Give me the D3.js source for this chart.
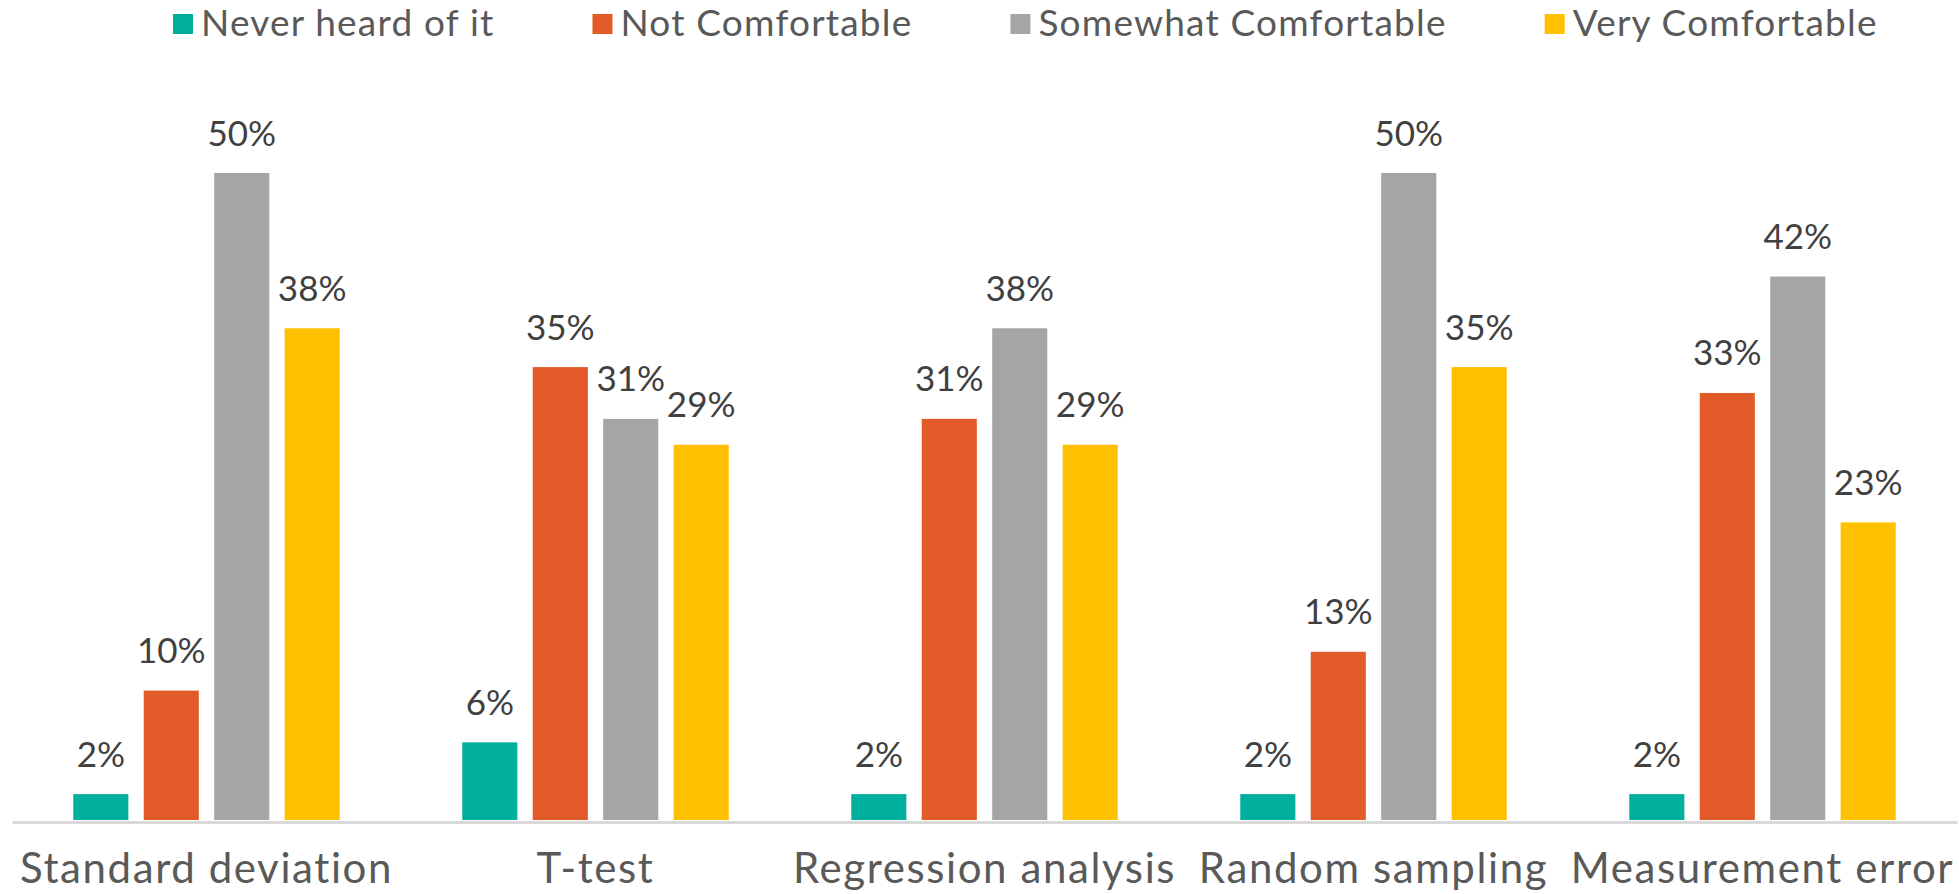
<!DOCTYPE html>
<html>
<head>
<meta charset="utf-8">
<script src="https://cdn.jsdelivr.net/npm/d3@7"></script>
<style>
  html, body { margin: 0; padding: 0; background: #ffffff; }
  svg { display: block; }
  text { font-family: Lato, "Open Sans", sans-serif; }
</style>
</head>
<body>
<svg id="chart" width="1959" height="894"></svg>
<script>
// Survey: comfort level with statistical concepts (% of respondents)
const categories = ["Standard deviation", "T-test", "Regression analysis", "Random sampling", "Measurement error"];
const seriesNames = ["Never heard of it", "Not Comfortable", "Somewhat Comfortable", "Very Comfortable"];
const neverHeard = [2, 6, 2, 2, 2];
const notComfortable = [10, 35, 31, 13, 33];
const somewhatComfortable = [50, 31, 38, 50, 42];
const veryComfortable = [38, 29, 29, 35, 23];
const seriesColors = ["#00AF9D", "#E15A27", "#A5A5A5", "#FFC000"];

const seriesValues = [neverHeard, notComfortable, somewhatComfortable, veryComfortable];

const W = 1959, H = 894;
const left = 12, right = 1957, baseY = 820, top50 = 173;

const svg = d3.select("#chart");

const x0 = d3.scaleBand()
  .domain(categories)
  .range([left, right])
  .paddingInner(0.315)
  .paddingOuter(0.1575);

const x1 = d3.scaleBand()
  .domain(seriesNames)
  .range([0, x0.bandwidth()])
  .paddingInner(0.218)
  .paddingOuter(0);

const y = d3.scaleLinear()
  .domain([0, 50])
  .range([baseY, top50]);

const color = d3.scaleOrdinal().domain(seriesNames).range(seriesColors);

// flatten into one record per bar
const rows = [];
categories.forEach((c, i) => {
  seriesNames.forEach((s, j) => {
    rows.push({ category: c, series: s, value: seriesValues[j][i] });
  });
});

svg.append("g").attr("class", "bars")
  .selectAll("rect")
  .data(rows)
  .join("rect")
  .attr("x", d => x0(d.category) + x1(d.series))
  .attr("y", d => y(d.value))
  .attr("width", x1.bandwidth())
  .attr("height", d => y(0) - y(d.value))
  .attr("fill", d => color(d.series));

// value labels above each bar
svg.append("g").attr("class", "values")
  .selectAll("text")
  .data(rows)
  .join("text")
  .attr("x", d => x0(d.category) + x1(d.series) + x1.bandwidth() / 2)
  .attr("y", d => y(d.value) - 27.5)
  .attr("text-anchor", "middle")
  .attr("font-size", 35)
  .attr("fill", "#404040")
  .text(d => d.value + "%");

// category axis along the baseline
const axis = svg.append("g")
  .attr("class", "x-axis")
  .attr("transform", `translate(0,${baseY + 2})`)
  .call(d3.axisBottom(x0).tickSize(0).tickSizeOuter(0));

axis.select(".domain")
  .attr("stroke", "#D9D9D9")
  .attr("stroke-width", 3);

axis.selectAll(".tick text")
  .attr("y", 61)
  .attr("dy", 0)
  .attr("font-size", 42)
  .attr("letter-spacing", 1.6)
  .attr("font-family", "Lato, 'Open Sans', sans-serif")
  .attr("fill", "#595959");

// legend across the top
const legend = svg.append("g").attr("class", "legend");
let lx = 173;
seriesNames.forEach((s, j) => {
  legend.append("rect")
    .attr("x", lx)
    .attr("y", 14)
    .attr("width", 20)
    .attr("height", 20)
    .attr("fill", seriesColors[j]);
  const t = legend.append("text")
    .attr("x", lx + 28)
    .attr("y", 36)
    .attr("font-size", 37)
    .attr("letter-spacing", 1.2)
    .attr("fill", "#595959")
    .text(s);
  lx = lx + 28 + t.node().getComputedTextLength() + 98;
});
</script>
</body>
</html>
